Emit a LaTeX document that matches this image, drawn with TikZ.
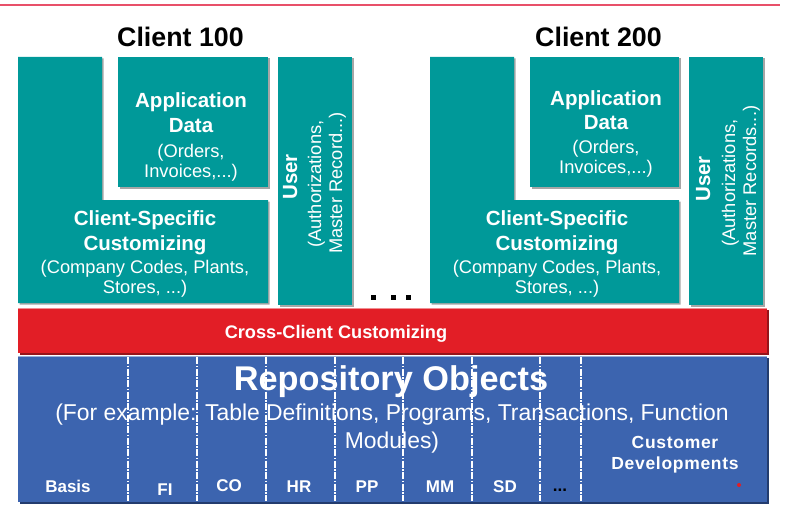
\documentclass[tikz,border=0pt]{standalone}
\usepackage{fontspec}
\setmainfont{Liberation Sans}
\definecolor{teal1}{RGB}{0,153,153}
\definecolor{red1}{RGB}{226,30,38}
\definecolor{red2}{RGB}{150,20,25}
\definecolor{blue1}{RGB}{60,100,175}
\definecolor{blue2}{RGB}{35,60,110}
\definecolor{topline}{RGB}{232,80,105}
\newcommand{\bigb}{\fontsize{20.5pt}{24pt}\selectfont\bfseries}
\newcommand{\reg}{\fontsize{18.3pt}{21pt}\selectfont}
\newcommand{\modf}{\fontsize{17pt}{20pt}\selectfont\bfseries}
\begin{document}
\begin{tikzpicture}[x=1pt,y=-1pt,
  tealbox/.style={fill=teal1, draw=none},
  shad/.style={fill=black, opacity=0.35, draw=none},
  wt/.style={text=white, inner sep=0pt, anchor=base},
  bt/.style={text=black, inner sep=0pt, anchor=base},
  sep/.style={draw=white, line width=1.1pt, dash pattern=on 7pt off 1.5pt on 1.5pt off 1.5pt}]
\useasboundingbox (0,0) rectangle (797,532);
% top line
\coordinate (tl1) at (0,5);
\coordinate (tl2) at (780,5);
\draw[topline, line width=1.3pt] (tl1) -- (tl2);

% titles
\node[bt, font=\fontsize{26.8pt}{30pt}\selectfont\bfseries] (t100) at (180.5,47) {Client 100};
\node[bt, font=\fontsize{26.8pt}{30pt}\selectfont\bfseries] (t200) at (598.5,47) {Client 200};

% ---- Client 100 ----
\fill[shad] (19.5,58.5) -- (103.5,58.5) -- (103.5,201.5) -- (269.5,201.5) -- (269.5,304.5) -- (19.5,304.5) -- cycle;
\fill[tealbox] (18,57) -- (102,57) -- (102,200) -- (268,200) -- (268,303) -- (18,303) -- cycle;
\fill[shad] (119.5,58.5) rectangle (269.5,188.5);
\fill[tealbox] (118,57) rectangle (268,187);
\fill[shad] (279.5,58.5) rectangle (353.5,306.5);
\fill[tealbox] (278,57) rectangle (352,305);

\node[wt, font=\bigb] (a1) at (191,108) {Application};
\node[wt, font=\bigb] (a2) at (191,132) {Data};
\node[wt, font=\reg] (a3) at (191,157) {(Orders,};
\node[wt, font=\reg] (a4) at (191,177) {Invoices,...)};

\node[wt, font=\bigb] (c1) at (145,225) {Client-Specific};
\node[wt, font=\bigb] (c2) at (145,250) {Customizing};
\node[wt, font=\reg] (c3) at (145,273) {(Company Codes, Plants,};
\node[wt, font=\reg] (c4) at (145,293) {Stores, ...)};

\node[wt, font=\bigb, rotate=90] (u1) at (297,177) {User};
\node[wt, font=\reg, rotate=90] (u2) at (321,184) {(Authorizations,};
\node[wt, font=\reg, rotate=90] (u3) at (342,183) {Master Record...)};

% ---- Client 200 ----
\fill[shad] (431.5,58.5) -- (515.5,58.5) -- (515.5,201.5) -- (680.5,201.5) -- (680.5,304.5) -- (431.5,304.5) -- cycle;
\fill[tealbox] (430,57) -- (514,57) -- (514,200) -- (679,200) -- (679,303) -- (430,303) -- cycle;
\fill[shad] (531.5,58.5) rectangle (680.5,188.5);
\fill[tealbox] (530,57) rectangle (679,187);
\fill[shad] (690.5,58.5) rectangle (764.5,306.5);
\fill[tealbox] (689,57) rectangle (763,305);

\node[wt, font=\bigb] (b1) at (606,106) {Application};
\node[wt, font=\bigb] (b2) at (606,129) {Data};
\node[wt, font=\reg] (b3) at (606,153) {(Orders,};
\node[wt, font=\reg] (b4) at (606,173) {Invoices,...)};

\node[wt, font=\bigb] (d1) at (557,225) {Client-Specific};
\node[wt, font=\bigb] (d2) at (557,250) {Customizing};
\node[wt, font=\reg] (d3) at (557,273) {(Company Codes, Plants,};
\node[wt, font=\reg] (d4) at (557,293) {Stores, ...)};

\node[wt, font=\bigb, rotate=90] (v1) at (710,179) {User};
\node[wt, font=\reg, rotate=90] (v2) at (735,183) {(Authorizations,};
\node[wt, font=\reg, rotate=90] (v3) at (756,181) {Master Records...)};

% ellipsis between clients
\fill[black] (371,295) rectangle (376,300);
\fill[black] (391,295) rectangle (396,300);
\fill[black] (406,295) rectangle (411,300);

% ---- Cross-client bar ----
\fill[red2] (19.5,309.5) rectangle (768.5,354.5);
\fill[red1] (18,308) rectangle (767,353);
\draw[white, opacity=0.5, line width=0.8pt] (18,308.5) -- (767,308.5);
\node[wt, font=\fontsize{18.2pt}{21pt}\selectfont\bfseries] (cc) at (336,338) {Cross-Client Customizing};

% ---- Repository bar ----
\fill[blue2] (19.5,357.5) rectangle (768.5,503.5);
\fill[blue1] (18,356) rectangle (767,502);
\draw[white, opacity=0.5, line width=0.8pt] (18,356.5) -- (767,356.5);

\node[wt, font=\fontsize{34.3pt}{38pt}\selectfont\bfseries] (ro) at (391,390) {Repository Objects};
\node[wt, font=\fontsize{22.9pt}{27pt}\selectfont] (re1) at (392,420) {(For example: Table Definitions, Programs, Transactions, Function};
\node[wt, font=\fontsize{22.9pt}{27pt}\selectfont] (re2) at (392,448) {Modules)};

% separators
\foreach \x [count=\i] in {128,197,266,335,403,472,540,581} {
  \coordinate (s\i t) at (\x,357);
  \coordinate (s\i b) at (\x,501);
  \draw[sep] (s\i t) -- (s\i b);
}

\node[wt, font=\modf] (m1) at (68,492) {Basis};
\node[wt, font=\modf] (m2) at (165,495) {FI};
\node[wt, font=\modf] (m3) at (229,491) {CO};
\node[wt, font=\modf] (m4) at (299,492) {HR};
\node[wt, font=\modf] (m5) at (367,492) {PP};
\node[wt, font=\modf] (m6) at (440,492) {MM};
\node[wt, font=\modf] (m7) at (505,492) {SD};
\node[bt, font=\modf] (m8) at (560,491) {...};
\node[wt, font=\fontsize{17.5pt}{20pt}\selectfont\bfseries, text width=150pt, align=center,
  font=\fontsize{17.5pt}{20pt}\selectfont\bfseries\addfontfeatures{LetterSpace=4}] (cd1) at (675,448) {Customer};
\node[wt, font=\fontsize{17.5pt}{20pt}\selectfont\bfseries\addfontfeatures{LetterSpace=4}] (cd2) at (675,469) {Developments};
\fill[red1] (739,485) circle (2);
\end{tikzpicture}
\end{document}
